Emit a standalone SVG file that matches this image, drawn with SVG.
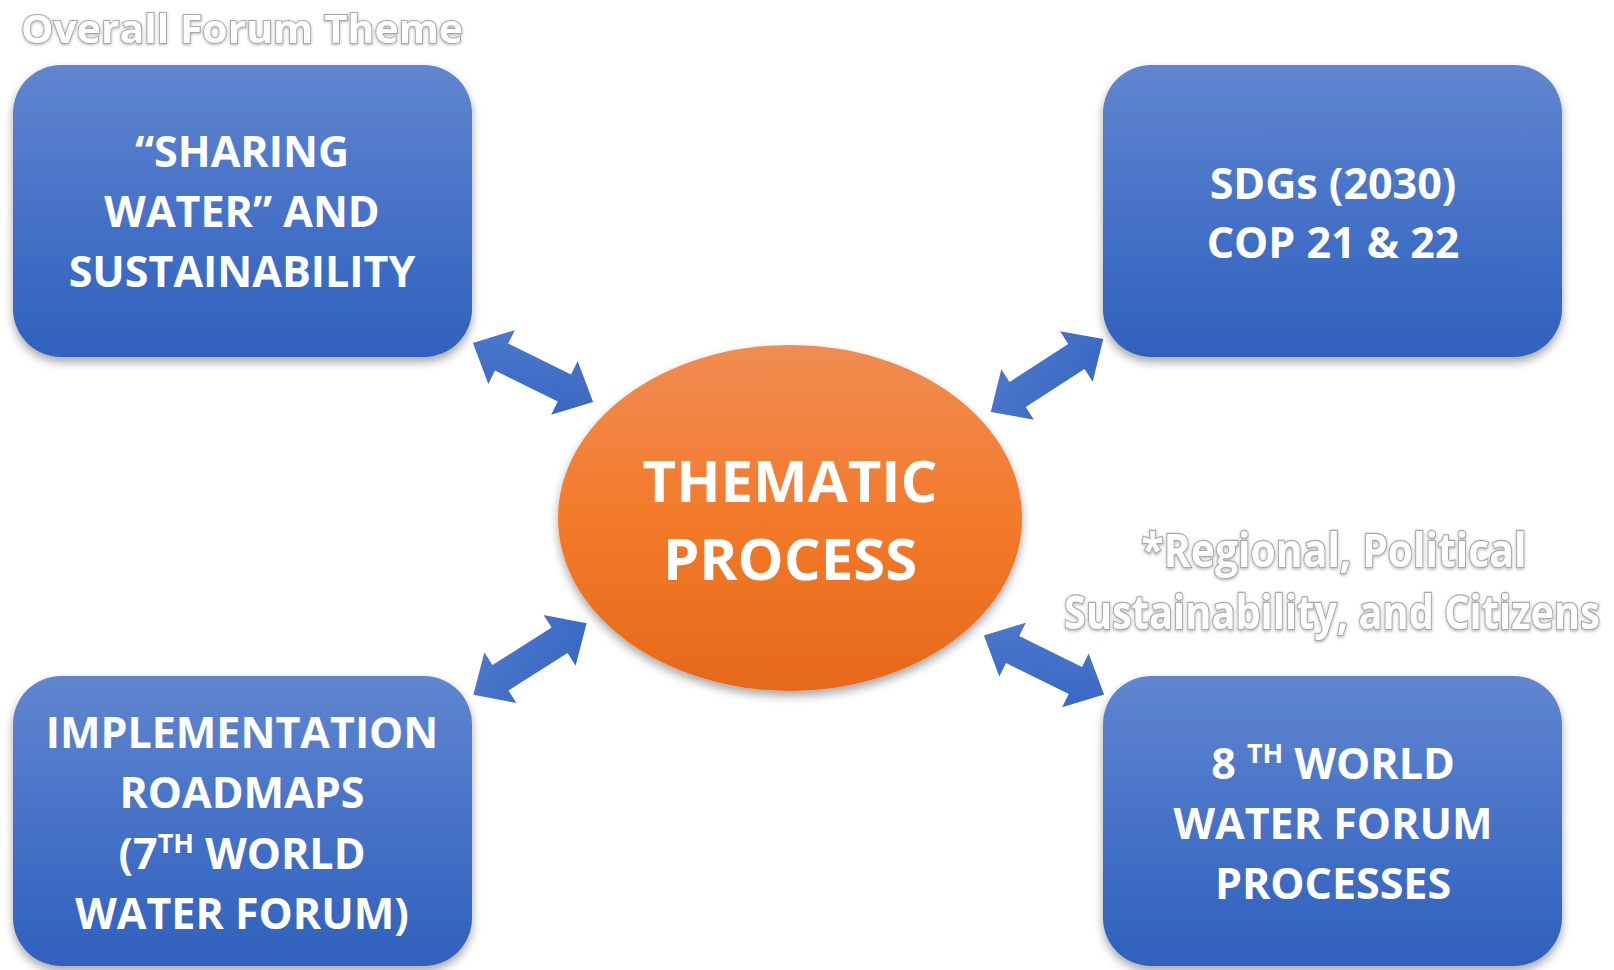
<svg xmlns="http://www.w3.org/2000/svg" width="1614" height="970" viewBox="0 0 1614 970">
  <style>
    .box { fill: url(#gBlue); filter: url(#sh); }
    .lbl { font-family: "Open Sans", "Liberation Sans", sans-serif; font-weight: 700; fill: #ffffff; text-anchor: middle; font-size: 43px; }
    .big { font-size: 58px; }
    .outline { font-family: "Open Sans", "Liberation Sans", sans-serif; font-weight: 700; fill: #ffffff; stroke: #a8a8a8; stroke-width: 2; paint-order: stroke; filter: url(#glow); }
    .arrow { fill: url(#gArrow); }
  </style>
  <defs>
    <linearGradient id="gBlue" x1="0" y1="0" x2="0" y2="1">
      <stop offset="0" stop-color="#6086CF"/>
      <stop offset="0.5" stop-color="#4672C8"/>
      <stop offset="1" stop-color="#2F61BC"/>
    </linearGradient>
    <linearGradient id="gOrange" x1="0" y1="0" x2="0" y2="1">
      <stop offset="0" stop-color="#F08C53"/>
      <stop offset="0.5" stop-color="#F37A2A"/>
      <stop offset="1" stop-color="#E5691B"/>
    </linearGradient>
    <linearGradient id="gArrow" x1="0" y1="0" x2="1" y2="1">
      <stop offset="0" stop-color="#4E7ACD"/>
      <stop offset="1" stop-color="#3666C2"/>
    </linearGradient>
    <filter id="sh" x="-10%" y="-10%" width="120%" height="130%">
      <feDropShadow dx="0" dy="5" stdDeviation="5" flood-color="#000000" flood-opacity="0.35"/>
    </filter>
    <filter id="glow" x="-10%" y="-50%" width="120%" height="200%">
      <feDropShadow dx="0" dy="1" stdDeviation="1.5" flood-color="#000000" flood-opacity="0.3"/>
    </filter>
    <polygon id="dbl" points="-67,0 -35,-30 -35,-15 35,-15 35,-30 67,0 35,30 35,15 -35,15 -35,30"/>
  </defs>

  <text class="outline" x="21" y="43" font-size="40" textLength="442" lengthAdjust="spacingAndGlyphs">Overall Forum Theme</text>

  <g id="connectors">
    <use href="#dbl" class="arrow" transform="translate(533,372.5) rotate(26.2)"/>
    <use href="#dbl" class="arrow" transform="translate(1047,375.5) rotate(-32.9)"/>
    <use href="#dbl" class="arrow" transform="translate(530,659) rotate(-32.3)"/>
    <use href="#dbl" class="arrow" transform="translate(1044,665) rotate(26.2)"/>
  </g>

  <g id="node-center">
    <ellipse cx="790" cy="518" rx="232" ry="173" fill="url(#gOrange)" filter="url(#sh)"/>
    <text class="lbl big" x="790" y="502">THEMATIC</text>
    <text class="lbl big" x="790" y="580">PROCESS</text>
  </g>

  <g id="node-sharing">
    <rect class="box" x="13" y="65" width="459" height="292" rx="48" ry="48"/>
    <text class="lbl" x="242" y="167">“SHARING</text>
    <text class="lbl" x="242" y="227">WATER” AND</text>
    <text class="lbl" x="242" y="287">SUSTAINABILITY</text>
  </g>

  <g id="node-sdgs">
    <rect class="box" x="1103" y="65" width="459" height="292" rx="48" ry="48"/>
    <text class="lbl" x="1333" y="199">SDGs (2030)</text>
    <text class="lbl" x="1333" y="258">COP 21 &amp; 22</text>
  </g>

  <g id="node-roadmaps">
    <rect class="box" x="13" y="676" width="459" height="290" rx="48" ry="48"/>
    <text class="lbl" x="242" y="748">IMPLEMENTATION</text>
    <text class="lbl" x="242" y="808">ROADMAPS</text>
    <text class="lbl" x="242" y="869">(7<tspan font-size="27" dy="-16">TH</tspan><tspan dy="16"> WORLD</tspan></text>
    <text class="lbl" x="242" y="929">WATER FORUM)</text>
  </g>

  <g id="node-8th">
    <rect class="box" x="1103" y="676" width="459" height="290" rx="48" ry="48"/>
    <text class="lbl" x="1333" y="779">8 <tspan font-size="27" dy="-16">TH</tspan><tspan dy="16"> WORLD</tspan></text>
    <text class="lbl" x="1333" y="839">WATER FORUM</text>
    <text class="lbl" x="1333" y="899">PROCESSES</text>
  </g>

  <g id="note">
    <text class="outline" x="1334" y="569" font-size="40" text-anchor="middle" textLength="385" lengthAdjust="spacingAndGlyphs" transform="translate(0,-104) scale(1,1.18)" transform-origin="0 0">*Regional, Political</text>
    <text class="outline" x="1332" y="630" font-size="40" text-anchor="middle" textLength="536" lengthAdjust="spacingAndGlyphs" transform="translate(0,-114) scale(1,1.18)">Sustainability, and Citizens</text>
  </g>
</svg>
